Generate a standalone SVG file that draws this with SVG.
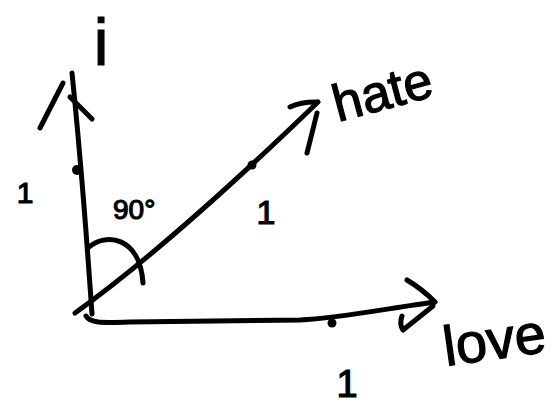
<svg xmlns="http://www.w3.org/2000/svg" width="558" height="410" viewBox="0 0 558 410">
  <style>
    .ink { fill: none; stroke: #000; stroke-width: 5; stroke-linecap: round; stroke-linejoin: round; }
    .dot { fill: #000; }
    .lbl { font-family: "Liberation Sans", "DejaVu Sans", sans-serif; fill: #000; stroke: #000; stroke-width: 1.2; }
  </style>
  <rect width="558" height="410" fill="#fff"/>

  <g id="connectors">
    <!-- i axis -->
    <path class="ink" d="M92,314 Q82,170 72,73"/>
    <path class="ink" d="M40,128 L63,83"/>
    <path class="ink" d="M70,97 L92,119"/>
    <!-- hate axis -->
    <path class="ink" d="M75,313 Q170,245 318,102"/>
    <path class="ink" d="M290,107 Q300,102 316,102"/>
    <path class="ink" d="M317,113 L307,153"/>
    <!-- love axis -->
    <path class="ink" d="M86,316 C90,323 100,323 130,322 L300,320 C340,318 390,308 435,302"/>
    <path class="ink" d="M407,280 Q422,289 435,302"/>
    <path class="ink" d="M433,306 L403,330 Q399,324 402,316"/>
    <!-- angle arc -->
    <path class="ink" d="M88,248 C105,232 140,236 143,283"/>
    <!-- unit marks -->
    <circle class="dot" cx="77" cy="170" r="5"/>
    <circle class="dot" cx="252" cy="165" r="4.5"/>
    <circle class="dot" cx="332" cy="323" r="4.5"/>
  </g>

  <g id="node-i">
    <text class="lbl" x="101" y="65" font-size="66" text-anchor="middle">i</text>
  </g>
  <g id="node-hate">
    <text class="lbl" x="338" y="122" font-size="52" transform="rotate(-15 338 122)">hate</text>
  </g>
  <g id="node-love">
    <text class="lbl" x="446" y="366" font-size="56" transform="rotate(-8 446 366)">love</text>
  </g>
  <g id="label-angle">
    <text class="lbl" x="113" y="219" font-size="28">90°</text>
  </g>
  <g id="unit-labels">
    <text class="lbl" x="25" y="203" font-size="30" text-anchor="middle">1</text>
    <text class="lbl" x="266" y="224" font-size="34" text-anchor="middle">1</text>
    <text class="lbl" x="347" y="397" font-size="38" text-anchor="middle">1</text>
  </g>
</svg>
